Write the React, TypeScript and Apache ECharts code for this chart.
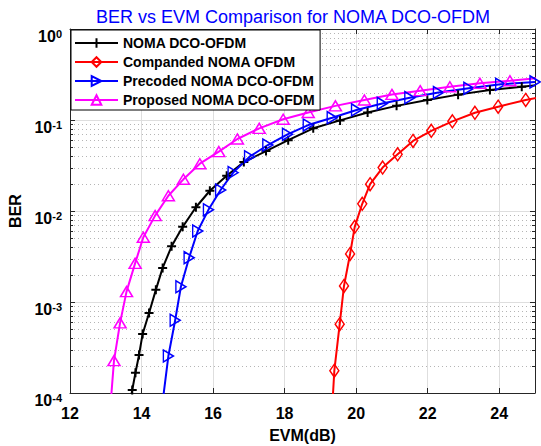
import React, { useEffect, useRef } from "react";
import * as echarts from "echarts";

const seriesNames = [
  "NOMA DCO-OFDM",
  "Companded NOMA OFDM",
  "Precoded NOMA DCO-OFDM",
  "Proposed NOMA DCO-OFDM",
];

const nomaDco: number[][] = [
  [13.67, 7.5e-5], [13.74, 1.08e-4], [13.83, 1.67e-4], [13.93, 2.62e-4], [14.03, 4.45e-4],
  [14.21, 7.57e-4], [14.4, 1.36e-3], [14.59, 2.37e-3], [14.84, 4.09e-3], [15.15, 6.7e-3],
  [15.52, 0.011], [15.91, 0.0167], [16.38, 0.0244], [16.86, 0.0345], [17.48, 0.0456],
  [18.1, 0.06], [18.8, 0.081], [19.55, 0.099], [20.32, 0.121], [21.13, 0.143],
  [21.99, 0.166], [22.85, 0.19], [23.74, 0.214], [24.63, 0.232], [25.5, 0.251],
];

const companded: number[][] = [
  [19.34, 8e-5], [19.39, 1.76e-4], [19.54, 5.7e-4], [19.66, 1.5e-3], [19.83, 3.37e-3],
  [19.96, 6.7e-3], [20.17, 0.012], [20.39, 0.0197], [20.74, 0.03], [21.16, 0.042],
  [21.59, 0.0588], [22.1, 0.076], [22.69, 0.0967], [23.32, 0.12], [23.97, 0.14],
  [24.74, 0.166], [25.5, 0.19],
];

const precoded: number[][] = [
  [14.59, 8e-5], [14.75, 2.55e-4], [14.94, 6.3e-4], [15.1, 1.47e-3], [15.33, 3.07e-3],
  [15.57, 6.03e-3], [15.87, 0.0103], [16.21, 0.017], [16.56, 0.0264], [17.02, 0.0395],
  [17.53, 0.0531], [18.08, 0.0696], [18.66, 0.088], [19.33, 0.106], [20.01, 0.129],
  [20.73, 0.152], [21.5, 0.176], [22.3, 0.2], [23.15, 0.223], [24.04, 0.247], [25.0, 0.262],
];

const proposed: number[][] = [
  [13.14, 8e-5], [13.23, 2.27e-4], [13.4, 5.9e-4], [13.58, 1.3e-3], [13.82, 2.66e-3],
  [14.05, 5.14e-3], [14.38, 8.9e-3], [14.75, 0.0147], [15.17, 0.0223], [15.63, 0.0331],
  [16.16, 0.0449], [16.68, 0.0618], [17.29, 0.081], [17.96, 0.102], [18.66, 0.121],
  [19.42, 0.143], [20.23, 0.166], [21.0, 0.191], [21.79, 0.21], [22.62, 0.232],
  [23.46, 0.253], [24.3, 0.27], [25.15, 0.29],
];

const xMin = 12;
const xMax = 25;
const xInterval = 2;
const yMin = 1e-4;
const yMax = 1;
const minorMultipliers = [2, 3, 4, 5, 6, 7, 8, 9];
const decadeExponents = [-4, -3, -2, -1];

const FONT = "'Liberation Sans', Arial, Helvetica, sans-serif";

export default function App() {
  const ref = useRef<HTMLDivElement>(null);

  useEffect(() => {
    if (!ref.current) return;
    const chart = echarts.init(ref.current, undefined, { renderer: "svg" });

    const minorVals: number[][] = [];
    decadeExponents.forEach((e) =>
      minorMultipliers.forEach((m) => minorVals.push([xMin, m * Math.pow(10, e)]))
    );

    const mk = (
      name: string,
      data: number[][],
      color: string,
      symbol: string,
      size: number | number[],
      rotate = 0,
      fill = "rgba(0,0,0,0)",
      bw = 1.5
    ) => ({
      name,
      type: "line",
      data,
      color,
      symbol,
      symbolSize: size,
      symbolRotate: rotate,
      symbolKeepAspect: false,
      showAllSymbol: true,
      clip: true,
      z: 3,
      lineStyle: { color, width: 2 },
      itemStyle: { color: fill, borderColor: color, borderWidth: bw },
      emphasis: { disabled: true },
    });

    const option: any = {
      animation: false,
      textStyle: { fontFamily: FONT },
      title: {
        text: "BER vs EVM Comparison for NOMA DCO-OFDM",
        left: 91,
        top: 3,
        textStyle: { color: "#0000ff", fontSize: 18, fontWeight: "normal", fontFamily: FONT },
      },
      legend: {
        data: seriesNames,
        orient: "vertical",
        left: 71,
        top: 30,
        padding: [6, 5, 3, 3],
        itemWidth: 43,
        itemHeight: 12,
        itemGap: 5,
        borderColor: "#000",
        borderWidth: 1,
        backgroundColor: "#fff",
        borderRadius: 0,
        textStyle: { fontSize: 14, fontWeight: "bold", color: "#000", fontFamily: FONT },
        selectedMode: false,
        z: 10,
      },
      grid: { left: 70, right: 6, top: 29, bottom: 53, containLabel: false, outerBoundsMode: "none" },
      xAxis: [
        {
          type: "value",
          min: xMin,
          max: xMax,
          interval: xInterval,
          name: "EVM(dB)",
          nameLocation: "middle",
          nameGap: 34,
          nameTextStyle: { fontSize: 16, fontWeight: "bold", color: "#000", fontFamily: FONT },
          axisLine: { show: true, onZero: false, lineStyle: { color: "#262626", width: 1 } },
          axisTick: { show: true, inside: true, length: 5, lineStyle: { color: "#262626" } },
          axisLabel: {
            fontSize: 16,
            fontWeight: "bold",
            color: "#000",
            margin: 12,
            showMaxLabel: false,
            fontFamily: FONT,
          },
          splitLine: { show: true, lineStyle: { color: "#dedede", width: 1 } },
        },
        {
          type: "value",
          position: "top",
          min: xMin,
          max: xMax,
          interval: xInterval,
          axisLine: { show: true, onZero: false, lineStyle: { color: "#262626", width: 1 } },
          axisTick: { show: true, inside: true, length: 5, lineStyle: { color: "#262626" } },
          axisLabel: { show: false },
          splitLine: { show: false },
        },
      ],
      yAxis: [
        {
          type: "log",
          logBase: 10,
          min: yMin,
          max: yMax,
          name: "BER",
          nameLocation: "middle",
          nameGap: 44,
          nameTextStyle: { fontSize: 16, fontWeight: "bold", color: "#000", fontFamily: FONT },
          axisLine: { show: true, onZero: false, lineStyle: { color: "#262626", width: 1 } },
          axisTick: { show: true, inside: true, length: 5, lineStyle: { color: "#262626" } },
          axisLabel: {
            margin: 8,
            padding: [15, 0, 0, 0],
            formatter: (v: number) => `{b|10}{s|${Math.round(Math.log10(v))}}`,
            rich: {
              b: { fontSize: 16, fontWeight: "bold", color: "#000", lineHeight: 16, verticalAlign: "bottom", fontFamily: FONT },
              s: { fontSize: 11, fontWeight: "bold", color: "#000", lineHeight: 12, verticalAlign: "top", padding: [0, 0, 9, 0], fontFamily: FONT },
            },
          },
          splitLine: { show: true, lineStyle: { color: "#dedede", width: 1 } },
        },
        {
          type: "log",
          logBase: 10,
          min: yMin,
          max: yMax,
          position: "right",
          axisLine: { show: true, onZero: false, lineStyle: { color: "#262626", width: 1 } },
          axisTick: { show: true, inside: true, length: 5, lineStyle: { color: "#262626" } },
          axisLabel: { show: false },
          splitLine: { show: false },
        },
      ],
      series: [
        {
          type: "custom",
          name: "minor",
          silent: true,
          z: 1,
          clip: true,
          data: minorVals,
          renderItem: (params: any, api: any) => {
            const v = api.value(1);
            const p0 = api.coord([xMin, v]);
            const p1 = api.coord([xMax, v]);
            const y = Math.round(p0[1]) + 0.5;
            return {
              type: "group",
              children: [
                {
                  type: "line",
                  shape: { x1: p0[0], y1: y, x2: p1[0], y2: y },
                  style: { stroke: "#b5b5b5", lineWidth: 1, lineDash: [1, 3] },
                },
                {
                  type: "line",
                  shape: { x1: p0[0], y1: y, x2: p0[0] + 3, y2: y },
                  style: { stroke: "#262626", lineWidth: 1 },
                },
                {
                  type: "line",
                  shape: { x1: p1[0] - 3, y1: y, x2: p1[0], y2: y },
                  style: { stroke: "#262626", lineWidth: 1 },
                },
              ],
            };
          },
        },
        mk(seriesNames[0], nomaDco, "#000000", "path://M5,0L5,10M0,5L10,5", 9, 0, "#000000", 2),
        mk(seriesNames[1], companded, "#ff0000", "diamond", [9, 13]),
        mk(seriesNames[2], precoded, "#0000ff", "triangle", [12, 10], -90),
        mk(seriesNames[3], proposed, "#ff00ff", "triangle", [12, 10]),
      ],
    };

    chart.setOption(option);
    return () => chart.dispose();
  }, []);

  return <div ref={ref} style={{ width: 541, height: 446, position: "absolute", left: 0, top: 0 }} />;
}
